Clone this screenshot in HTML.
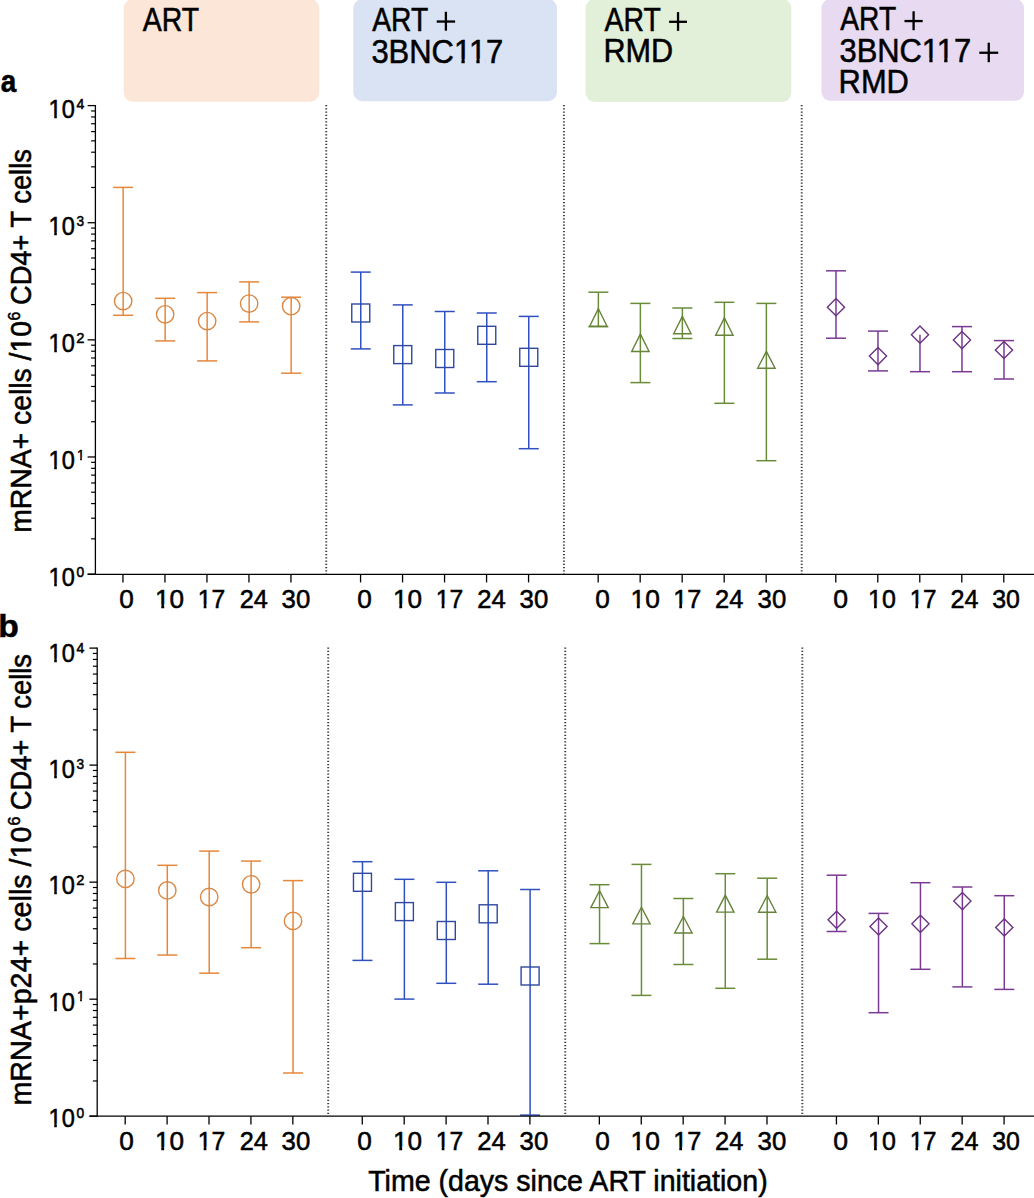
<!DOCTYPE html>
<html><head><meta charset="utf-8"><title>Figure</title>
<style>
html,body{margin:0;padding:0;background:#fff;}
body{width:1034px;height:1198px;overflow:hidden;}
svg{display:block;}
text{font-family:"Liberation Sans", sans-serif;fill:#000;stroke:#000;stroke-width:0.55px;}
</style></head>
<body>
<svg width="1034" height="1198" viewBox="0 0 1034 1198">
<rect x="0" y="0" width="1034" height="1198" fill="#fff"/>
<rect x="123.7" y="-1" width="195.5" height="102.7" rx="9" ry="9" fill="#FBE6D8"/>
<rect x="353.3" y="-1" width="203.6" height="102.2" rx="9" ry="9" fill="#DAE3F3"/>
<rect x="585.6" y="-1" width="205.7" height="102.9" rx="9" ry="9" fill="#E3F0D9"/>
<rect x="821.5" y="-1" width="202.5" height="101.8" rx="9" ry="9" fill="#E7DAF1"/>
<text transform="translate(142.81 30.9) scale(0.8436 1)" font-size="33.7">ART</text>
<text transform="translate(372.21 30.8) scale(0.8376 1)" font-size="33.7">ART</text>
<g transform="translate(371.38 62.5) scale(0.9189 1)"><text font-size="33.7">3BNC117</text><rect x="91.19" y="-3.69" width="6.81" height="5.79" fill="#DAE3F3" stroke="none"/><rect x="101.57" y="-3.69" width="6.59" height="5.79" fill="#DAE3F3" stroke="none"/><rect x="107.42" y="-3.69" width="6.81" height="5.79" fill="#DAE3F3" stroke="none"/><rect x="117.81" y="-3.69" width="6.59" height="5.79" fill="#DAE3F3" stroke="none"/></g>
<text transform="translate(604.51 30.9) scale(0.8436 1)" font-size="33.7">ART</text>
<text transform="translate(603.43 61.9) scale(0.9082 1)" font-size="33.7">RMD</text>
<text transform="translate(840.31 30.2) scale(0.8361 1)" font-size="33.7">ART</text>
<g transform="translate(839.48 61.8) scale(0.9168 1)"><text font-size="33.7">3BNC117</text><rect x="91.19" y="-3.69" width="6.81" height="5.79" fill="#E7DAF1" stroke="none"/><rect x="101.57" y="-3.69" width="6.59" height="5.79" fill="#E7DAF1" stroke="none"/><rect x="107.42" y="-3.69" width="6.81" height="5.79" fill="#E7DAF1" stroke="none"/><rect x="117.81" y="-3.69" width="6.59" height="5.79" fill="#E7DAF1" stroke="none"/></g>
<text transform="translate(838.61 93.1) scale(0.9164 1)" font-size="33.7">RMD</text>
<rect x="436.7" y="20.4" width="18.4" height="2.3" fill="#000"/>
<rect x="444.75" y="11.8" width="2.3" height="18.9" fill="#000"/>
<rect x="669.1" y="20.65" width="17.9" height="2.3" fill="#000"/>
<rect x="676.9" y="12.1" width="2.3" height="18.8" fill="#000"/>
<rect x="904.5" y="19.9" width="18.2" height="2.3" fill="#000"/>
<rect x="912.45" y="11.3" width="2.3" height="18.9" fill="#000"/>
<rect x="979.3" y="51.6" width="18.9" height="2.3" fill="#000"/>
<rect x="987.6" y="42.7" width="2.3" height="19.5" fill="#000"/>
<text transform="translate(0.7 92.1) scale(0.8714 1)" font-size="32" font-weight="bold">a</text>
<text transform="translate(-1.84 636.6) scale(1.0507 1)" font-size="32" font-weight="bold">b</text>
<text transform="translate(119.36 607.6) scale(0.9887 1)" font-size="26.5">0</text>
<g transform="translate(155.08 607.6) scale(0.9849 1)"><text font-size="26.5">10</text><rect x="0.74" y="-3.14" width="5.56" height="5.24" fill="#fff" stroke="none"/><rect x="9.25" y="-3.14" width="5.4" height="5.24" fill="#fff" stroke="none"/></g>
<g transform="translate(197.8 607.6) scale(0.9333 1)"><text font-size="26.5">17</text><rect x="0.74" y="-3.14" width="5.56" height="5.24" fill="#fff" stroke="none"/><rect x="9.25" y="-3.14" width="5.4" height="5.24" fill="#fff" stroke="none"/></g>
<text transform="translate(239.64 607.6) scale(0.9571 1)" font-size="26.5">24</text>
<text transform="translate(281.57 607.6) scale(0.9714 1)" font-size="26.5">30</text>
<text transform="translate(357.36 607.6) scale(0.9887 1)" font-size="26.5">0</text>
<g transform="translate(393.08 607.6) scale(0.9849 1)"><text font-size="26.5">10</text><rect x="0.74" y="-3.14" width="5.56" height="5.24" fill="#fff" stroke="none"/><rect x="9.25" y="-3.14" width="5.4" height="5.24" fill="#fff" stroke="none"/></g>
<g transform="translate(435.8 607.6) scale(0.9333 1)"><text font-size="26.5">17</text><rect x="0.74" y="-3.14" width="5.56" height="5.24" fill="#fff" stroke="none"/><rect x="9.25" y="-3.14" width="5.4" height="5.24" fill="#fff" stroke="none"/></g>
<text transform="translate(477.33 607.6) scale(0.9679 1)" font-size="26.5">24</text>
<text transform="translate(519.57 607.6) scale(0.9714 1)" font-size="26.5">30</text>
<text transform="translate(595.36 607.6) scale(0.9887 1)" font-size="26.5">0</text>
<g transform="translate(630.56 607.6) scale(0.9962 1)"><text font-size="26.5">10</text><rect x="0.74" y="-3.14" width="5.56" height="5.24" fill="#fff" stroke="none"/><rect x="9.25" y="-3.14" width="5.4" height="5.24" fill="#fff" stroke="none"/></g>
<g transform="translate(673.26 607.6) scale(0.9524 1)"><text font-size="26.5">17</text><rect x="0.74" y="-3.14" width="5.56" height="5.24" fill="#fff" stroke="none"/><rect x="9.25" y="-3.14" width="5.4" height="5.24" fill="#fff" stroke="none"/></g>
<text transform="translate(715.04 607.6) scale(0.9607 1)" font-size="26.5">24</text>
<text transform="translate(757.57 607.6) scale(0.9714 1)" font-size="26.5">30</text>
<text transform="translate(833.25 607.6) scale(1.0038 1)" font-size="26.5">0</text>
<g transform="translate(868.08 607.6) scale(0.9434 1)"><text font-size="26.5">10</text><rect x="0.74" y="-3.14" width="5.56" height="5.24" fill="#fff" stroke="none"/><rect x="9.25" y="-3.14" width="5.4" height="5.24" fill="#fff" stroke="none"/></g>
<g transform="translate(909.64 607.6) scale(0.9143 1)"><text font-size="26.5">17</text><rect x="0.74" y="-3.14" width="5.56" height="5.24" fill="#fff" stroke="none"/><rect x="9.25" y="-3.14" width="5.4" height="5.24" fill="#fff" stroke="none"/></g>
<text transform="translate(950.45 607.6) scale(0.9500 1)" font-size="26.5">24</text>
<text transform="translate(992.2 607.6) scale(0.9393 1)" font-size="26.5">30</text>
<text transform="translate(119.36 1150) scale(0.9887 1)" font-size="26.5">0</text>
<g transform="translate(155.08 1150) scale(0.9849 1)"><text font-size="26.5">10</text><rect x="0.74" y="-3.14" width="5.56" height="5.24" fill="#fff" stroke="none"/><rect x="9.25" y="-3.14" width="5.4" height="5.24" fill="#fff" stroke="none"/></g>
<g transform="translate(197.8 1150) scale(0.9333 1)"><text font-size="26.5">17</text><rect x="0.74" y="-3.14" width="5.56" height="5.24" fill="#fff" stroke="none"/><rect x="9.25" y="-3.14" width="5.4" height="5.24" fill="#fff" stroke="none"/></g>
<text transform="translate(239.64 1150) scale(0.9571 1)" font-size="26.5">24</text>
<text transform="translate(281.57 1150) scale(0.9714 1)" font-size="26.5">30</text>
<text transform="translate(357.36 1150) scale(0.9887 1)" font-size="26.5">0</text>
<g transform="translate(393.08 1150) scale(0.9849 1)"><text font-size="26.5">10</text><rect x="0.74" y="-3.14" width="5.56" height="5.24" fill="#fff" stroke="none"/><rect x="9.25" y="-3.14" width="5.4" height="5.24" fill="#fff" stroke="none"/></g>
<g transform="translate(435.8 1150) scale(0.9333 1)"><text font-size="26.5">17</text><rect x="0.74" y="-3.14" width="5.56" height="5.24" fill="#fff" stroke="none"/><rect x="9.25" y="-3.14" width="5.4" height="5.24" fill="#fff" stroke="none"/></g>
<text transform="translate(477.33 1150) scale(0.9679 1)" font-size="26.5">24</text>
<text transform="translate(519.57 1150) scale(0.9714 1)" font-size="26.5">30</text>
<text transform="translate(595.36 1150) scale(0.9887 1)" font-size="26.5">0</text>
<g transform="translate(630.56 1150) scale(0.9962 1)"><text font-size="26.5">10</text><rect x="0.74" y="-3.14" width="5.56" height="5.24" fill="#fff" stroke="none"/><rect x="9.25" y="-3.14" width="5.4" height="5.24" fill="#fff" stroke="none"/></g>
<g transform="translate(673.26 1150) scale(0.9524 1)"><text font-size="26.5">17</text><rect x="0.74" y="-3.14" width="5.56" height="5.24" fill="#fff" stroke="none"/><rect x="9.25" y="-3.14" width="5.4" height="5.24" fill="#fff" stroke="none"/></g>
<text transform="translate(715.04 1150) scale(0.9607 1)" font-size="26.5">24</text>
<text transform="translate(757.57 1150) scale(0.9714 1)" font-size="26.5">30</text>
<text transform="translate(833.25 1150) scale(1.0038 1)" font-size="26.5">0</text>
<g transform="translate(868.08 1150) scale(0.9434 1)"><text font-size="26.5">10</text><rect x="0.74" y="-3.14" width="5.56" height="5.24" fill="#fff" stroke="none"/><rect x="9.25" y="-3.14" width="5.4" height="5.24" fill="#fff" stroke="none"/></g>
<g transform="translate(909.64 1150) scale(0.9143 1)"><text font-size="26.5">17</text><rect x="0.74" y="-3.14" width="5.56" height="5.24" fill="#fff" stroke="none"/><rect x="9.25" y="-3.14" width="5.4" height="5.24" fill="#fff" stroke="none"/></g>
<text transform="translate(950.45 1150) scale(0.9500 1)" font-size="26.5">24</text>
<text transform="translate(992.2 1150) scale(0.9393 1)" font-size="26.5">30</text>
<line x1="123.15" y1="187.4" x2="123.15" y2="315.3" stroke="#E6873A" stroke-width="1.5"/><line x1="113.15" y1="187.4" x2="133.15" y2="187.4" stroke="#E6873A" stroke-width="1.5"/><line x1="113.15" y1="315.3" x2="133.15" y2="315.3" stroke="#E6873A" stroke-width="1.5"/>
<circle cx="123.15" cy="301.1" r="8.7" fill="none" stroke="#D98845" stroke-width="1.4"/>
<line x1="165.15" y1="298.3" x2="165.15" y2="340.9" stroke="#E6873A" stroke-width="1.5"/><line x1="155.15" y1="298.3" x2="175.15" y2="298.3" stroke="#E6873A" stroke-width="1.5"/><line x1="155.15" y1="340.9" x2="175.15" y2="340.9" stroke="#E6873A" stroke-width="1.5"/>
<circle cx="165.15" cy="314.3" r="8.7" fill="none" stroke="#D98845" stroke-width="1.4"/>
<line x1="207.15" y1="292.6" x2="207.15" y2="360.9" stroke="#E6873A" stroke-width="1.5"/><line x1="197.15" y1="292.6" x2="217.15" y2="292.6" stroke="#E6873A" stroke-width="1.5"/><line x1="197.15" y1="360.9" x2="217.15" y2="360.9" stroke="#E6873A" stroke-width="1.5"/>
<circle cx="207.15" cy="321.1" r="8.7" fill="none" stroke="#D98845" stroke-width="1.4"/>
<line x1="249.15" y1="281.9" x2="249.15" y2="321.9" stroke="#E6873A" stroke-width="1.5"/><line x1="239.15" y1="281.9" x2="259.15" y2="281.9" stroke="#E6873A" stroke-width="1.5"/><line x1="239.15" y1="321.9" x2="259.15" y2="321.9" stroke="#E6873A" stroke-width="1.5"/>
<circle cx="249.15" cy="303.6" r="8.7" fill="none" stroke="#D98845" stroke-width="1.4"/>
<line x1="291.15" y1="297.2" x2="291.15" y2="373.2" stroke="#E6873A" stroke-width="1.5"/><line x1="281.15" y1="297.2" x2="301.15" y2="297.2" stroke="#E6873A" stroke-width="1.5"/><line x1="281.15" y1="373.2" x2="301.15" y2="373.2" stroke="#E6873A" stroke-width="1.5"/>
<circle cx="291.15" cy="306.2" r="8.7" fill="none" stroke="#D98845" stroke-width="1.4"/>
<line x1="360.76" y1="272.1" x2="360.76" y2="348.9" stroke="#3050C0" stroke-width="1.5"/><line x1="350.76" y1="272.1" x2="370.76" y2="272.1" stroke="#3050C0" stroke-width="1.5"/><line x1="350.76" y1="348.9" x2="370.76" y2="348.9" stroke="#3050C0" stroke-width="1.5"/>
<rect x="351.76" y="304" width="18" height="18" fill="none" stroke="#30489F" stroke-width="1.4"/>
<line x1="402.76" y1="304.9" x2="402.76" y2="404.9" stroke="#3050C0" stroke-width="1.5"/><line x1="392.76" y1="304.9" x2="412.76" y2="304.9" stroke="#3050C0" stroke-width="1.5"/><line x1="392.76" y1="404.9" x2="412.76" y2="404.9" stroke="#3050C0" stroke-width="1.5"/>
<rect x="393.76" y="345.6" width="18" height="18" fill="none" stroke="#30489F" stroke-width="1.4"/>
<line x1="444.76" y1="311.5" x2="444.76" y2="393" stroke="#3050C0" stroke-width="1.5"/><line x1="434.76" y1="311.5" x2="454.76" y2="311.5" stroke="#3050C0" stroke-width="1.5"/><line x1="434.76" y1="393" x2="454.76" y2="393" stroke="#3050C0" stroke-width="1.5"/>
<rect x="435.76" y="349.5" width="18" height="18" fill="none" stroke="#30489F" stroke-width="1.4"/>
<line x1="486.76" y1="313" x2="486.76" y2="381.7" stroke="#3050C0" stroke-width="1.5"/><line x1="476.76" y1="313" x2="496.76" y2="313" stroke="#3050C0" stroke-width="1.5"/><line x1="476.76" y1="381.7" x2="496.76" y2="381.7" stroke="#3050C0" stroke-width="1.5"/>
<rect x="477.76" y="326.3" width="18" height="18" fill="none" stroke="#30489F" stroke-width="1.4"/>
<line x1="528.76" y1="316.4" x2="528.76" y2="448.7" stroke="#3050C0" stroke-width="1.5"/><line x1="518.76" y1="316.4" x2="538.76" y2="316.4" stroke="#3050C0" stroke-width="1.5"/><line x1="518.76" y1="448.7" x2="538.76" y2="448.7" stroke="#3050C0" stroke-width="1.5"/>
<rect x="519.76" y="348.3" width="18" height="18" fill="none" stroke="#30489F" stroke-width="1.4"/>
<line x1="598.37" y1="292.2" x2="598.37" y2="326.7" stroke="#6A8C38" stroke-width="1.5"/><line x1="588.37" y1="292.2" x2="608.37" y2="292.2" stroke="#6A8C38" stroke-width="1.5"/><line x1="588.37" y1="326.7" x2="608.37" y2="326.7" stroke="#6A8C38" stroke-width="1.5"/>
<path d="M598.37 308.7 L607.07 326.3 L589.67 326.3 Z" fill="none" stroke="#66833A" stroke-width="1.4"/>
<line x1="640.37" y1="303.4" x2="640.37" y2="382.6" stroke="#6A8C38" stroke-width="1.5"/><line x1="630.37" y1="303.4" x2="650.37" y2="303.4" stroke="#6A8C38" stroke-width="1.5"/><line x1="630.37" y1="382.6" x2="650.37" y2="382.6" stroke="#6A8C38" stroke-width="1.5"/>
<path d="M640.37 334.1 L649.07 351.5 L631.67 351.5 Z" fill="none" stroke="#66833A" stroke-width="1.4"/>
<line x1="682.37" y1="308" x2="682.37" y2="338.5" stroke="#6A8C38" stroke-width="1.5"/><line x1="672.37" y1="308" x2="692.37" y2="308" stroke="#6A8C38" stroke-width="1.5"/><line x1="672.37" y1="338.5" x2="692.37" y2="338.5" stroke="#6A8C38" stroke-width="1.5"/>
<path d="M682.37 316.4 L691.07 333.8 L673.67 333.8 Z" fill="none" stroke="#66833A" stroke-width="1.4"/>
<line x1="724.37" y1="302.3" x2="724.37" y2="403.3" stroke="#6A8C38" stroke-width="1.5"/><line x1="714.37" y1="302.3" x2="734.37" y2="302.3" stroke="#6A8C38" stroke-width="1.5"/><line x1="714.37" y1="403.3" x2="734.37" y2="403.3" stroke="#6A8C38" stroke-width="1.5"/>
<path d="M724.37 317.9 L733.07 335.2 L715.67 335.2 Z" fill="none" stroke="#66833A" stroke-width="1.4"/>
<line x1="766.37" y1="303.4" x2="766.37" y2="460.7" stroke="#6A8C38" stroke-width="1.5"/><line x1="756.37" y1="303.4" x2="776.37" y2="303.4" stroke="#6A8C38" stroke-width="1.5"/><line x1="756.37" y1="460.7" x2="776.37" y2="460.7" stroke="#6A8C38" stroke-width="1.5"/>
<path d="M766.37 351.4 L775.07 368.3 L757.67 368.3 Z" fill="none" stroke="#66833A" stroke-width="1.4"/>
<line x1="835.98" y1="270.8" x2="835.98" y2="338.2" stroke="#7A3A94" stroke-width="1.5"/><line x1="825.98" y1="270.8" x2="845.98" y2="270.8" stroke="#7A3A94" stroke-width="1.5"/><line x1="825.98" y1="338.2" x2="845.98" y2="338.2" stroke="#7A3A94" stroke-width="1.5"/>
<path d="M835.98 298.6 L844.58 307.2 L835.98 315.8 L827.38 307.2 Z" fill="none" stroke="#6A3482" stroke-width="1.4"/>
<line x1="877.98" y1="331.1" x2="877.98" y2="370.9" stroke="#7A3A94" stroke-width="1.5"/><line x1="867.98" y1="331.1" x2="887.98" y2="331.1" stroke="#7A3A94" stroke-width="1.5"/><line x1="867.98" y1="370.9" x2="887.98" y2="370.9" stroke="#7A3A94" stroke-width="1.5"/>
<path d="M877.98 347.5 L886.58 356.1 L877.98 364.7 L869.38 356.1 Z" fill="none" stroke="#6A3482" stroke-width="1.4"/>
<line x1="919.98" y1="334.7" x2="919.98" y2="371.7" stroke="#7A3A94" stroke-width="1.5"/>
<line x1="909.98" y1="371.7" x2="929.98" y2="371.7" stroke="#7A3A94" stroke-width="1.5"/>
<path d="M919.98 326.1 L928.58 334.7 L919.98 343.3 L911.38 334.7 Z" fill="none" stroke="#6A3482" stroke-width="1.4"/>
<line x1="961.98" y1="326.6" x2="961.98" y2="371.7" stroke="#7A3A94" stroke-width="1.5"/><line x1="951.98" y1="326.6" x2="971.98" y2="326.6" stroke="#7A3A94" stroke-width="1.5"/><line x1="951.98" y1="371.7" x2="971.98" y2="371.7" stroke="#7A3A94" stroke-width="1.5"/>
<path d="M961.98 331.5 L970.58 340.1 L961.98 348.7 L953.38 340.1 Z" fill="none" stroke="#6A3482" stroke-width="1.4"/>
<line x1="1003.98" y1="340.6" x2="1003.98" y2="379" stroke="#7A3A94" stroke-width="1.5"/><line x1="993.98" y1="340.6" x2="1013.98" y2="340.6" stroke="#7A3A94" stroke-width="1.5"/><line x1="993.98" y1="379" x2="1013.98" y2="379" stroke="#7A3A94" stroke-width="1.5"/>
<path d="M1003.98 341.4 L1012.58 350 L1003.98 358.6 L995.38 350 Z" fill="none" stroke="#6A3482" stroke-width="1.4"/>
<line x1="125.39" y1="752.3" x2="125.39" y2="958.5" stroke="#E6873A" stroke-width="1.5"/><line x1="115.39" y1="752.3" x2="135.39" y2="752.3" stroke="#E6873A" stroke-width="1.5"/><line x1="115.39" y1="958.5" x2="135.39" y2="958.5" stroke="#E6873A" stroke-width="1.5"/>
<circle cx="125.39" cy="878.9" r="8.7" fill="none" stroke="#D98845" stroke-width="1.4"/>
<line x1="167.3" y1="865.3" x2="167.3" y2="955.1" stroke="#E6873A" stroke-width="1.5"/><line x1="157.3" y1="865.3" x2="177.3" y2="865.3" stroke="#E6873A" stroke-width="1.5"/><line x1="157.3" y1="955.1" x2="177.3" y2="955.1" stroke="#E6873A" stroke-width="1.5"/>
<circle cx="167.3" cy="890.4" r="8.7" fill="none" stroke="#D98845" stroke-width="1.4"/>
<line x1="209.21" y1="851.1" x2="209.21" y2="973.2" stroke="#E6873A" stroke-width="1.5"/><line x1="199.21" y1="851.1" x2="219.21" y2="851.1" stroke="#E6873A" stroke-width="1.5"/><line x1="199.21" y1="973.2" x2="219.21" y2="973.2" stroke="#E6873A" stroke-width="1.5"/>
<circle cx="209.21" cy="897" r="8.7" fill="none" stroke="#D98845" stroke-width="1.4"/>
<line x1="251.12" y1="861.1" x2="251.12" y2="947.7" stroke="#E6873A" stroke-width="1.5"/><line x1="241.12" y1="861.1" x2="261.12" y2="861.1" stroke="#E6873A" stroke-width="1.5"/><line x1="241.12" y1="947.7" x2="261.12" y2="947.7" stroke="#E6873A" stroke-width="1.5"/>
<circle cx="251.12" cy="884.3" r="8.7" fill="none" stroke="#D98845" stroke-width="1.4"/>
<line x1="293.03" y1="880.6" x2="293.03" y2="1073" stroke="#E6873A" stroke-width="1.5"/><line x1="283.03" y1="880.6" x2="303.03" y2="880.6" stroke="#E6873A" stroke-width="1.5"/><line x1="283.03" y1="1073" x2="303.03" y2="1073" stroke="#E6873A" stroke-width="1.5"/>
<circle cx="293.03" cy="920.9" r="8.7" fill="none" stroke="#D98845" stroke-width="1.4"/>
<line x1="362.47" y1="861.7" x2="362.47" y2="960.4" stroke="#3050C0" stroke-width="1.5"/><line x1="352.47" y1="861.7" x2="372.47" y2="861.7" stroke="#3050C0" stroke-width="1.5"/><line x1="352.47" y1="960.4" x2="372.47" y2="960.4" stroke="#3050C0" stroke-width="1.5"/>
<rect x="353.47" y="873.3" width="18" height="18" fill="none" stroke="#30489F" stroke-width="1.4"/>
<line x1="404.38" y1="879.3" x2="404.38" y2="999.1" stroke="#3050C0" stroke-width="1.5"/><line x1="394.38" y1="879.3" x2="414.38" y2="879.3" stroke="#3050C0" stroke-width="1.5"/><line x1="394.38" y1="999.1" x2="414.38" y2="999.1" stroke="#3050C0" stroke-width="1.5"/>
<rect x="395.38" y="902.6" width="18" height="18" fill="none" stroke="#30489F" stroke-width="1.4"/>
<line x1="446.29" y1="882.3" x2="446.29" y2="983.3" stroke="#3050C0" stroke-width="1.5"/><line x1="436.29" y1="882.3" x2="456.29" y2="882.3" stroke="#3050C0" stroke-width="1.5"/><line x1="436.29" y1="983.3" x2="456.29" y2="983.3" stroke="#3050C0" stroke-width="1.5"/>
<rect x="437.29" y="921.5" width="18" height="18" fill="none" stroke="#30489F" stroke-width="1.4"/>
<line x1="488.2" y1="870.8" x2="488.2" y2="984.2" stroke="#3050C0" stroke-width="1.5"/><line x1="478.2" y1="870.8" x2="498.2" y2="870.8" stroke="#3050C0" stroke-width="1.5"/><line x1="478.2" y1="984.2" x2="498.2" y2="984.2" stroke="#3050C0" stroke-width="1.5"/>
<rect x="479.2" y="904.8" width="18" height="18" fill="none" stroke="#30489F" stroke-width="1.4"/>
<line x1="530.11" y1="889.5" x2="530.11" y2="1115.1" stroke="#3050C0" stroke-width="1.5"/><line x1="520.11" y1="889.5" x2="540.11" y2="889.5" stroke="#3050C0" stroke-width="1.5"/><line x1="520.11" y1="1115.1" x2="540.11" y2="1115.1" stroke="#3050C0" stroke-width="1.5"/>
<rect x="521.11" y="967" width="18" height="18" fill="none" stroke="#30489F" stroke-width="1.4"/>
<line x1="599.55" y1="884.7" x2="599.55" y2="943.6" stroke="#6A8C38" stroke-width="1.5"/><line x1="589.55" y1="884.7" x2="609.55" y2="884.7" stroke="#6A8C38" stroke-width="1.5"/><line x1="589.55" y1="943.6" x2="609.55" y2="943.6" stroke="#6A8C38" stroke-width="1.5"/>
<path d="M599.55 890.7 L608.25 907.6 L590.85 907.6 Z" fill="none" stroke="#66833A" stroke-width="1.4"/>
<line x1="641.46" y1="864.4" x2="641.46" y2="995.4" stroke="#6A8C38" stroke-width="1.5"/><line x1="631.46" y1="864.4" x2="651.46" y2="864.4" stroke="#6A8C38" stroke-width="1.5"/><line x1="631.46" y1="995.4" x2="651.46" y2="995.4" stroke="#6A8C38" stroke-width="1.5"/>
<path d="M641.46 907.3 L650.16 923.9 L632.76 923.9 Z" fill="none" stroke="#66833A" stroke-width="1.4"/>
<line x1="683.37" y1="898.5" x2="683.37" y2="964.5" stroke="#6A8C38" stroke-width="1.5"/><line x1="673.37" y1="898.5" x2="693.37" y2="898.5" stroke="#6A8C38" stroke-width="1.5"/><line x1="673.37" y1="964.5" x2="693.37" y2="964.5" stroke="#6A8C38" stroke-width="1.5"/>
<path d="M683.37 916.5 L692.07 933 L674.67 933 Z" fill="none" stroke="#66833A" stroke-width="1.4"/>
<line x1="725.28" y1="873.7" x2="725.28" y2="988.3" stroke="#6A8C38" stroke-width="1.5"/><line x1="715.28" y1="873.7" x2="735.28" y2="873.7" stroke="#6A8C38" stroke-width="1.5"/><line x1="715.28" y1="988.3" x2="735.28" y2="988.3" stroke="#6A8C38" stroke-width="1.5"/>
<path d="M725.28 895.1 L733.98 912.1 L716.58 912.1 Z" fill="none" stroke="#66833A" stroke-width="1.4"/>
<line x1="767.19" y1="878.2" x2="767.19" y2="959.2" stroke="#6A8C38" stroke-width="1.5"/><line x1="757.19" y1="878.2" x2="777.19" y2="878.2" stroke="#6A8C38" stroke-width="1.5"/><line x1="757.19" y1="959.2" x2="777.19" y2="959.2" stroke="#6A8C38" stroke-width="1.5"/>
<path d="M767.19 895.5 L775.89 912.3 L758.49 912.3 Z" fill="none" stroke="#66833A" stroke-width="1.4"/>
<line x1="836.63" y1="875.2" x2="836.63" y2="931.5" stroke="#7A3A94" stroke-width="1.5"/><line x1="826.63" y1="875.2" x2="846.63" y2="875.2" stroke="#7A3A94" stroke-width="1.5"/><line x1="826.63" y1="931.5" x2="846.63" y2="931.5" stroke="#7A3A94" stroke-width="1.5"/>
<path d="M836.63 911.2 L845.23 919.8 L836.63 928.4 L828.03 919.8 Z" fill="none" stroke="#6A3482" stroke-width="1.4"/>
<line x1="878.54" y1="913.4" x2="878.54" y2="1012.7" stroke="#7A3A94" stroke-width="1.5"/><line x1="868.54" y1="913.4" x2="888.54" y2="913.4" stroke="#7A3A94" stroke-width="1.5"/><line x1="868.54" y1="1012.7" x2="888.54" y2="1012.7" stroke="#7A3A94" stroke-width="1.5"/>
<path d="M878.54 917.9 L887.14 926.5 L878.54 935.1 L869.94 926.5 Z" fill="none" stroke="#6A3482" stroke-width="1.4"/>
<line x1="920.45" y1="882.7" x2="920.45" y2="969.3" stroke="#7A3A94" stroke-width="1.5"/><line x1="910.45" y1="882.7" x2="930.45" y2="882.7" stroke="#7A3A94" stroke-width="1.5"/><line x1="910.45" y1="969.3" x2="930.45" y2="969.3" stroke="#7A3A94" stroke-width="1.5"/>
<path d="M920.45 915.2 L929.05 923.8 L920.45 932.4 L911.85 923.8 Z" fill="none" stroke="#6A3482" stroke-width="1.4"/>
<line x1="962.36" y1="887" x2="962.36" y2="986.9" stroke="#7A3A94" stroke-width="1.5"/><line x1="952.36" y1="887" x2="972.36" y2="887" stroke="#7A3A94" stroke-width="1.5"/><line x1="952.36" y1="986.9" x2="972.36" y2="986.9" stroke="#7A3A94" stroke-width="1.5"/>
<path d="M962.36 892.5 L970.96 901.1 L962.36 909.7 L953.76 901.1 Z" fill="none" stroke="#6A3482" stroke-width="1.4"/>
<line x1="1004.27" y1="895.7" x2="1004.27" y2="989.4" stroke="#7A3A94" stroke-width="1.5"/><line x1="994.27" y1="895.7" x2="1014.27" y2="895.7" stroke="#7A3A94" stroke-width="1.5"/><line x1="994.27" y1="989.4" x2="1014.27" y2="989.4" stroke="#7A3A94" stroke-width="1.5"/>
<path d="M1004.27 918.8 L1012.87 927.4 L1004.27 936 L995.67 927.4 Z" fill="none" stroke="#6A3482" stroke-width="1.4"/>
<line x1="95.4" y1="105" x2="95.4" y2="574.1" stroke="#000" stroke-width="1.3"/>
<line x1="87.6" y1="574.4" x2="1034" y2="574.4" stroke="#000" stroke-width="1.3"/>
<line x1="91.1" y1="538.84" x2="95.4" y2="538.84" stroke="#000" stroke-width="1.2"/>
<line x1="91.1" y1="518.22" x2="95.4" y2="518.22" stroke="#000" stroke-width="1.2"/>
<line x1="91.1" y1="503.58" x2="95.4" y2="503.58" stroke="#000" stroke-width="1.2"/>
<line x1="91.1" y1="492.23" x2="95.4" y2="492.23" stroke="#000" stroke-width="1.2"/>
<line x1="91.1" y1="482.96" x2="95.4" y2="482.96" stroke="#000" stroke-width="1.2"/>
<line x1="91.1" y1="475.12" x2="95.4" y2="475.12" stroke="#000" stroke-width="1.2"/>
<line x1="91.1" y1="468.33" x2="95.4" y2="468.33" stroke="#000" stroke-width="1.2"/>
<line x1="91.1" y1="462.33" x2="95.4" y2="462.33" stroke="#000" stroke-width="1.2"/>
<line x1="91.1" y1="421.72" x2="95.4" y2="421.72" stroke="#000" stroke-width="1.2"/>
<line x1="91.1" y1="401.09" x2="95.4" y2="401.09" stroke="#000" stroke-width="1.2"/>
<line x1="91.1" y1="386.46" x2="95.4" y2="386.46" stroke="#000" stroke-width="1.2"/>
<line x1="91.1" y1="375.11" x2="95.4" y2="375.11" stroke="#000" stroke-width="1.2"/>
<line x1="91.1" y1="365.83" x2="95.4" y2="365.83" stroke="#000" stroke-width="1.2"/>
<line x1="91.1" y1="357.99" x2="95.4" y2="357.99" stroke="#000" stroke-width="1.2"/>
<line x1="91.1" y1="351.2" x2="95.4" y2="351.2" stroke="#000" stroke-width="1.2"/>
<line x1="91.1" y1="345.21" x2="95.4" y2="345.21" stroke="#000" stroke-width="1.2"/>
<line x1="91.1" y1="304.59" x2="95.4" y2="304.59" stroke="#000" stroke-width="1.2"/>
<line x1="91.1" y1="283.97" x2="95.4" y2="283.97" stroke="#000" stroke-width="1.2"/>
<line x1="91.1" y1="269.33" x2="95.4" y2="269.33" stroke="#000" stroke-width="1.2"/>
<line x1="91.1" y1="257.98" x2="95.4" y2="257.98" stroke="#000" stroke-width="1.2"/>
<line x1="91.1" y1="248.71" x2="95.4" y2="248.71" stroke="#000" stroke-width="1.2"/>
<line x1="91.1" y1="240.87" x2="95.4" y2="240.87" stroke="#000" stroke-width="1.2"/>
<line x1="91.1" y1="234.08" x2="95.4" y2="234.08" stroke="#000" stroke-width="1.2"/>
<line x1="91.1" y1="228.08" x2="95.4" y2="228.08" stroke="#000" stroke-width="1.2"/>
<line x1="91.1" y1="187.47" x2="95.4" y2="187.47" stroke="#000" stroke-width="1.2"/>
<line x1="91.1" y1="166.84" x2="95.4" y2="166.84" stroke="#000" stroke-width="1.2"/>
<line x1="91.1" y1="152.21" x2="95.4" y2="152.21" stroke="#000" stroke-width="1.2"/>
<line x1="91.1" y1="140.86" x2="95.4" y2="140.86" stroke="#000" stroke-width="1.2"/>
<line x1="91.1" y1="131.58" x2="95.4" y2="131.58" stroke="#000" stroke-width="1.2"/>
<line x1="91.1" y1="123.74" x2="95.4" y2="123.74" stroke="#000" stroke-width="1.2"/>
<line x1="91.1" y1="116.95" x2="95.4" y2="116.95" stroke="#000" stroke-width="1.2"/>
<line x1="91.1" y1="110.96" x2="95.4" y2="110.96" stroke="#000" stroke-width="1.2"/>
<line x1="87.6" y1="574.1" x2="95.4" y2="574.1" stroke="#000" stroke-width="1.3"/>
<g transform="translate(48.6 585.9) scale(0.8868 1)"><text font-size="26.6">10</text><rect x="0.75" y="-3.15" width="5.58" height="5.25" fill="#fff" stroke="none"/><rect x="9.28" y="-3.15" width="5.42" height="5.25" fill="#fff" stroke="none"/></g>
<text transform="translate(76.48 576.5) scale(0.9000 1)" font-size="15.3">0</text>
<line x1="87.6" y1="456.98" x2="95.4" y2="456.98" stroke="#000" stroke-width="1.3"/>
<g transform="translate(48.6 469) scale(0.8868 1)"><text font-size="26.6">10</text><rect x="0.75" y="-3.15" width="5.58" height="5.25" fill="#fff" stroke="none"/><rect x="9.28" y="-3.15" width="5.42" height="5.25" fill="#fff" stroke="none"/></g>
<g transform="translate(76.98 459.8) scale(0.8941 1)"><text font-size="15.3">1</text><rect x="-0.12" y="-2.28" width="3.63" height="4.38" fill="#fff" stroke="none"/><rect x="5.48" y="-2.28" width="3.54" height="4.38" fill="#fff" stroke="none"/></g>
<line x1="87.6" y1="339.85" x2="95.4" y2="339.85" stroke="#000" stroke-width="1.3"/>
<g transform="translate(48.6 352.2) scale(0.8868 1)"><text font-size="26.6">10</text><rect x="0.75" y="-3.15" width="5.58" height="5.25" fill="#fff" stroke="none"/><rect x="9.28" y="-3.15" width="5.42" height="5.25" fill="#fff" stroke="none"/></g>
<text transform="translate(76.22 342.7) scale(0.9600 1)" font-size="15.3">2</text>
<line x1="87.6" y1="222.73" x2="95.4" y2="222.73" stroke="#000" stroke-width="1.3"/>
<g transform="translate(48.6 235.2) scale(0.8868 1)"><text font-size="26.6">10</text><rect x="0.75" y="-3.15" width="5.58" height="5.25" fill="#fff" stroke="none"/><rect x="9.28" y="-3.15" width="5.42" height="5.25" fill="#fff" stroke="none"/></g>
<text transform="translate(76.48 225.8) scale(0.8903 1)" font-size="15.3">3</text>
<line x1="87.6" y1="105.6" x2="95.4" y2="105.6" stroke="#000" stroke-width="1.3"/>
<g transform="translate(48.6 118.4) scale(0.8868 1)"><text font-size="26.6">10</text><rect x="0.75" y="-3.15" width="5.58" height="5.25" fill="#fff" stroke="none"/><rect x="9.28" y="-3.15" width="5.42" height="5.25" fill="#fff" stroke="none"/></g>
<text transform="translate(76.4 108.9) scale(0.9212 1)" font-size="15.3">4</text>
<line x1="122.95" y1="574.1" x2="122.95" y2="582.4" stroke="#000" stroke-width="1.3"/>
<line x1="164.95" y1="574.1" x2="164.95" y2="582.4" stroke="#000" stroke-width="1.3"/>
<line x1="206.95" y1="574.1" x2="206.95" y2="582.4" stroke="#000" stroke-width="1.3"/>
<line x1="248.95" y1="574.1" x2="248.95" y2="582.4" stroke="#000" stroke-width="1.3"/>
<line x1="290.95" y1="574.1" x2="290.95" y2="582.4" stroke="#000" stroke-width="1.3"/>
<line x1="360.56" y1="574.1" x2="360.56" y2="582.4" stroke="#000" stroke-width="1.3"/>
<line x1="402.56" y1="574.1" x2="402.56" y2="582.4" stroke="#000" stroke-width="1.3"/>
<line x1="444.56" y1="574.1" x2="444.56" y2="582.4" stroke="#000" stroke-width="1.3"/>
<line x1="486.56" y1="574.1" x2="486.56" y2="582.4" stroke="#000" stroke-width="1.3"/>
<line x1="528.56" y1="574.1" x2="528.56" y2="582.4" stroke="#000" stroke-width="1.3"/>
<line x1="598.17" y1="574.1" x2="598.17" y2="582.4" stroke="#000" stroke-width="1.3"/>
<line x1="640.17" y1="574.1" x2="640.17" y2="582.4" stroke="#000" stroke-width="1.3"/>
<line x1="682.17" y1="574.1" x2="682.17" y2="582.4" stroke="#000" stroke-width="1.3"/>
<line x1="724.17" y1="574.1" x2="724.17" y2="582.4" stroke="#000" stroke-width="1.3"/>
<line x1="766.17" y1="574.1" x2="766.17" y2="582.4" stroke="#000" stroke-width="1.3"/>
<line x1="835.78" y1="574.1" x2="835.78" y2="582.4" stroke="#000" stroke-width="1.3"/>
<line x1="877.78" y1="574.1" x2="877.78" y2="582.4" stroke="#000" stroke-width="1.3"/>
<line x1="919.78" y1="574.1" x2="919.78" y2="582.4" stroke="#000" stroke-width="1.3"/>
<line x1="961.78" y1="574.1" x2="961.78" y2="582.4" stroke="#000" stroke-width="1.3"/>
<line x1="1003.78" y1="574.1" x2="1003.78" y2="582.4" stroke="#000" stroke-width="1.3"/>
<line x1="326.25" y1="105.1" x2="326.25" y2="574.1" stroke="#3a3a3a" stroke-width="1.9" stroke-dasharray="1.25 1.98"/>
<line x1="563.9" y1="105.1" x2="563.9" y2="574.1" stroke="#3a3a3a" stroke-width="1.9" stroke-dasharray="1.25 1.98"/>
<line x1="801.7" y1="105.1" x2="801.7" y2="574.1" stroke="#3a3a3a" stroke-width="1.9" stroke-dasharray="1.25 1.98"/>
<line x1="97.2" y1="647.5" x2="97.2" y2="1116.2" stroke="#000" stroke-width="1.3"/>
<line x1="89.4" y1="1116.2" x2="1034" y2="1116.2" stroke="#000" stroke-width="1.3"/>
<line x1="92.9" y1="1080.97" x2="97.2" y2="1080.97" stroke="#000" stroke-width="1.2"/>
<line x1="92.9" y1="1060.36" x2="97.2" y2="1060.36" stroke="#000" stroke-width="1.2"/>
<line x1="92.9" y1="1045.74" x2="97.2" y2="1045.74" stroke="#000" stroke-width="1.2"/>
<line x1="92.9" y1="1034.4" x2="97.2" y2="1034.4" stroke="#000" stroke-width="1.2"/>
<line x1="92.9" y1="1025.14" x2="97.2" y2="1025.14" stroke="#000" stroke-width="1.2"/>
<line x1="92.9" y1="1017.3" x2="97.2" y2="1017.3" stroke="#000" stroke-width="1.2"/>
<line x1="92.9" y1="1010.52" x2="97.2" y2="1010.52" stroke="#000" stroke-width="1.2"/>
<line x1="92.9" y1="1004.53" x2="97.2" y2="1004.53" stroke="#000" stroke-width="1.2"/>
<line x1="92.9" y1="963.95" x2="97.2" y2="963.95" stroke="#000" stroke-width="1.2"/>
<line x1="92.9" y1="943.34" x2="97.2" y2="943.34" stroke="#000" stroke-width="1.2"/>
<line x1="92.9" y1="928.72" x2="97.2" y2="928.72" stroke="#000" stroke-width="1.2"/>
<line x1="92.9" y1="917.38" x2="97.2" y2="917.38" stroke="#000" stroke-width="1.2"/>
<line x1="92.9" y1="908.11" x2="97.2" y2="908.11" stroke="#000" stroke-width="1.2"/>
<line x1="92.9" y1="900.28" x2="97.2" y2="900.28" stroke="#000" stroke-width="1.2"/>
<line x1="92.9" y1="893.49" x2="97.2" y2="893.49" stroke="#000" stroke-width="1.2"/>
<line x1="92.9" y1="887.5" x2="97.2" y2="887.5" stroke="#000" stroke-width="1.2"/>
<line x1="92.9" y1="846.92" x2="97.2" y2="846.92" stroke="#000" stroke-width="1.2"/>
<line x1="92.9" y1="826.31" x2="97.2" y2="826.31" stroke="#000" stroke-width="1.2"/>
<line x1="92.9" y1="811.69" x2="97.2" y2="811.69" stroke="#000" stroke-width="1.2"/>
<line x1="92.9" y1="800.35" x2="97.2" y2="800.35" stroke="#000" stroke-width="1.2"/>
<line x1="92.9" y1="791.09" x2="97.2" y2="791.09" stroke="#000" stroke-width="1.2"/>
<line x1="92.9" y1="783.25" x2="97.2" y2="783.25" stroke="#000" stroke-width="1.2"/>
<line x1="92.9" y1="776.47" x2="97.2" y2="776.47" stroke="#000" stroke-width="1.2"/>
<line x1="92.9" y1="770.48" x2="97.2" y2="770.48" stroke="#000" stroke-width="1.2"/>
<line x1="92.9" y1="729.9" x2="97.2" y2="729.9" stroke="#000" stroke-width="1.2"/>
<line x1="92.9" y1="709.29" x2="97.2" y2="709.29" stroke="#000" stroke-width="1.2"/>
<line x1="92.9" y1="694.67" x2="97.2" y2="694.67" stroke="#000" stroke-width="1.2"/>
<line x1="92.9" y1="683.33" x2="97.2" y2="683.33" stroke="#000" stroke-width="1.2"/>
<line x1="92.9" y1="674.06" x2="97.2" y2="674.06" stroke="#000" stroke-width="1.2"/>
<line x1="92.9" y1="666.23" x2="97.2" y2="666.23" stroke="#000" stroke-width="1.2"/>
<line x1="92.9" y1="659.44" x2="97.2" y2="659.44" stroke="#000" stroke-width="1.2"/>
<line x1="92.9" y1="653.45" x2="97.2" y2="653.45" stroke="#000" stroke-width="1.2"/>
<line x1="89.4" y1="1116.2" x2="97.2" y2="1116.2" stroke="#000" stroke-width="1.3"/>
<g transform="translate(48.6 1126.7) scale(0.8868 1)"><text font-size="26.6">10</text><rect x="0.75" y="-3.15" width="5.58" height="5.25" fill="#fff" stroke="none"/><rect x="9.28" y="-3.15" width="5.42" height="5.25" fill="#fff" stroke="none"/></g>
<text transform="translate(76.48 1117.8) scale(0.9000 1)" font-size="15.3">0</text>
<line x1="89.4" y1="999.18" x2="97.2" y2="999.18" stroke="#000" stroke-width="1.3"/>
<g transform="translate(48.6 1010.6) scale(0.8868 1)"><text font-size="26.6">10</text><rect x="0.75" y="-3.15" width="5.58" height="5.25" fill="#fff" stroke="none"/><rect x="9.28" y="-3.15" width="5.42" height="5.25" fill="#fff" stroke="none"/></g>
<g transform="translate(76.98 1001) scale(0.8941 1)"><text font-size="15.3">1</text><rect x="-0.12" y="-2.28" width="3.63" height="4.38" fill="#fff" stroke="none"/><rect x="5.48" y="-2.28" width="3.54" height="4.38" fill="#fff" stroke="none"/></g>
<line x1="89.4" y1="882.15" x2="97.2" y2="882.15" stroke="#000" stroke-width="1.3"/>
<g transform="translate(48.6 894) scale(0.8868 1)"><text font-size="26.6">10</text><rect x="0.75" y="-3.15" width="5.58" height="5.25" fill="#fff" stroke="none"/><rect x="9.28" y="-3.15" width="5.42" height="5.25" fill="#fff" stroke="none"/></g>
<text transform="translate(76.22 884.8) scale(0.9600 1)" font-size="15.3">2</text>
<line x1="89.4" y1="765.12" x2="97.2" y2="765.12" stroke="#000" stroke-width="1.3"/>
<g transform="translate(48.6 777.8) scale(0.8868 1)"><text font-size="26.6">10</text><rect x="0.75" y="-3.15" width="5.58" height="5.25" fill="#fff" stroke="none"/><rect x="9.28" y="-3.15" width="5.42" height="5.25" fill="#fff" stroke="none"/></g>
<text transform="translate(76.48 768.6) scale(0.8903 1)" font-size="15.3">3</text>
<line x1="89.4" y1="648.1" x2="97.2" y2="648.1" stroke="#000" stroke-width="1.3"/>
<g transform="translate(48.6 661.6) scale(0.8868 1)"><text font-size="26.6">10</text><rect x="0.75" y="-3.15" width="5.58" height="5.25" fill="#fff" stroke="none"/><rect x="9.28" y="-3.15" width="5.42" height="5.25" fill="#fff" stroke="none"/></g>
<text transform="translate(76.4 652.6) scale(0.9212 1)" font-size="15.3">4</text>
<line x1="125.19" y1="1116.2" x2="125.19" y2="1124.5" stroke="#000" stroke-width="1.3"/>
<line x1="167.1" y1="1116.2" x2="167.1" y2="1124.5" stroke="#000" stroke-width="1.3"/>
<line x1="209.01" y1="1116.2" x2="209.01" y2="1124.5" stroke="#000" stroke-width="1.3"/>
<line x1="250.92" y1="1116.2" x2="250.92" y2="1124.5" stroke="#000" stroke-width="1.3"/>
<line x1="292.83" y1="1116.2" x2="292.83" y2="1124.5" stroke="#000" stroke-width="1.3"/>
<line x1="362.27" y1="1116.2" x2="362.27" y2="1124.5" stroke="#000" stroke-width="1.3"/>
<line x1="404.18" y1="1116.2" x2="404.18" y2="1124.5" stroke="#000" stroke-width="1.3"/>
<line x1="446.09" y1="1116.2" x2="446.09" y2="1124.5" stroke="#000" stroke-width="1.3"/>
<line x1="488" y1="1116.2" x2="488" y2="1124.5" stroke="#000" stroke-width="1.3"/>
<line x1="529.91" y1="1116.2" x2="529.91" y2="1124.5" stroke="#000" stroke-width="1.3"/>
<line x1="599.35" y1="1116.2" x2="599.35" y2="1124.5" stroke="#000" stroke-width="1.3"/>
<line x1="641.26" y1="1116.2" x2="641.26" y2="1124.5" stroke="#000" stroke-width="1.3"/>
<line x1="683.17" y1="1116.2" x2="683.17" y2="1124.5" stroke="#000" stroke-width="1.3"/>
<line x1="725.08" y1="1116.2" x2="725.08" y2="1124.5" stroke="#000" stroke-width="1.3"/>
<line x1="766.99" y1="1116.2" x2="766.99" y2="1124.5" stroke="#000" stroke-width="1.3"/>
<line x1="836.43" y1="1116.2" x2="836.43" y2="1124.5" stroke="#000" stroke-width="1.3"/>
<line x1="878.34" y1="1116.2" x2="878.34" y2="1124.5" stroke="#000" stroke-width="1.3"/>
<line x1="920.25" y1="1116.2" x2="920.25" y2="1124.5" stroke="#000" stroke-width="1.3"/>
<line x1="962.16" y1="1116.2" x2="962.16" y2="1124.5" stroke="#000" stroke-width="1.3"/>
<line x1="1004.07" y1="1116.2" x2="1004.07" y2="1124.5" stroke="#000" stroke-width="1.3"/>
<line x1="328.2" y1="647.6" x2="328.2" y2="1116.2" stroke="#3a3a3a" stroke-width="1.9" stroke-dasharray="1.25 1.98"/>
<line x1="565.25" y1="647.6" x2="565.25" y2="1116.2" stroke="#3a3a3a" stroke-width="1.9" stroke-dasharray="1.25 1.98"/>
<line x1="802.3" y1="647.6" x2="802.3" y2="1116.2" stroke="#3a3a3a" stroke-width="1.9" stroke-dasharray="1.25 1.98"/>
<g transform="translate(30.8 532.85) rotate(-90) scale(0.9449 1)"><text font-size="30.0">mRNA+ cells /10</text><rect x="191.88" y="-3.41" width="6.17" height="5.51" fill="#fff" stroke="none"/><rect x="201.3" y="-3.41" width="5.98" height="5.51" fill="#fff" stroke="none"/></g>
<text transform="translate(20.4 320.46) rotate(-90) scale(0.9294 1)" font-size="17.0">6</text>
<text transform="translate(30.8 304.94) rotate(-90) scale(0.9087 1)" font-size="30.0">CD4+ T cells</text>
<g transform="translate(30.8 1105.57) rotate(-90) scale(0.9566 1)"><text font-size="30.0">mRNA+p24+ cells /10</text><rect x="259.45" y="-3.41" width="6.17" height="5.51" fill="#fff" stroke="none"/><rect x="268.87" y="-3.41" width="5.98" height="5.51" fill="#fff" stroke="none"/></g>
<text transform="translate(20.4 825.57) rotate(-90) scale(0.9412 1)" font-size="17.0">6</text>
<text transform="translate(30.8 810.34) rotate(-90) scale(0.9123 1)" font-size="30.0">CD4+ T cells</text>
<text transform="translate(368.22 1190.6) scale(0.9523 1)" font-size="30">Time (days since ART initiation)</text>
</svg>
</body></html>
